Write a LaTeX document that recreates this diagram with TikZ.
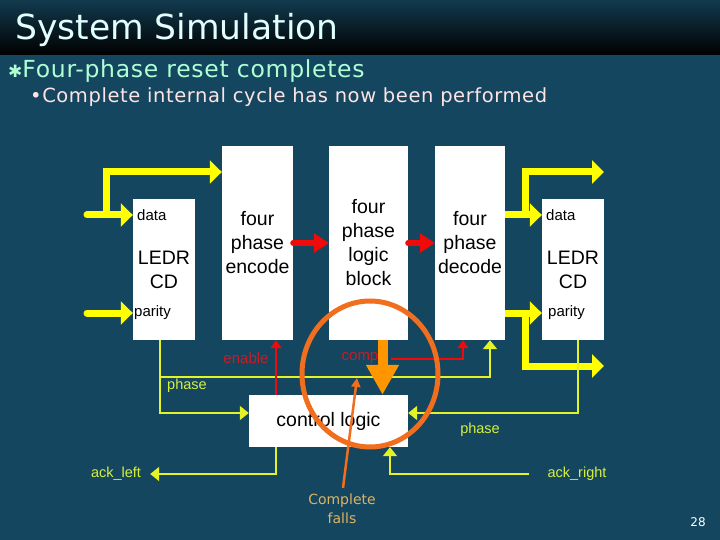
\documentclass[tikz,border=0pt]{standalone}
\usepackage{fontspec}
\setmainfont{Liberation Sans}
\newfontfamily\slidefont{DejaVu Sans}
\newfontfamily\widefont[LetterSpace=3]{DejaVu Sans}
\usetikzlibrary{arrows.meta,positioning,calc}
\definecolor{slidebg}{RGB}{20,70,96}
\definecolor{titletop}{RGB}{18,58,78}
\definecolor{titlecol}{RGB}{225,255,255}
\definecolor{bulletcol}{RGB}{175,255,210}
\definecolor{subcol}{RGB}{255,228,228}
\definecolor{sigyel}{RGB}{255,255,0}
\definecolor{thinyel}{RGB}{228,242,40}
\definecolor{labyel}{RGB}{215,240,60}
\definecolor{sigred}{RGB}{240,10,10}
\definecolor{labred}{RGB}{195,30,40}
\definecolor{ringor}{RGB}{240,110,30}
\definecolor{bigor}{RGB}{255,150,0}
\definecolor{notecol}{RGB}{220,180,100}

\begin{document}
\begin{tikzpicture}[x=1pt, y=-1pt, >=Latex]
\tikzstyle{blk}=[fill=white, inner sep=0pt, align=center, font=\fontsize{19.5}{24}\selectfont]
\tikzstyle{port}=[inner sep=0pt, anchor=west, font=\fontsize{15}{18}\selectfont]
\tikzstyle{bus}=[sigyel, line width=7pt, -{Triangle[width=23pt,length=12pt]}]
\tikzstyle{fwd}=[sigred, line width=6pt, line cap=round, -{Triangle[width=19pt,length=15pt]}]
\tikzstyle{wire}=[thinyel, line width=2pt, -{Triangle[width=14pt,length=9pt]}]
\tikzstyle{rwire}=[sigred, line width=1.6pt, -{Triangle[width=11pt,length=8pt]}]
\tikzstyle{lab}=[inner sep=0pt, labyel, font=\fontsize{14.5}{17}\selectfont]
\useasboundingbox (0,0) rectangle (720,540);
% slide background and heading
\fill[slidebg] (0,0) rectangle (720,540);
\shade[top color=titletop, bottom color=black] (0,0) rectangle (720,55);
\node[anchor=base west, inner sep=0pt, titlecol, font=\slidefont\fontsize{34.5}{40}\selectfont] (title) at (15,40) {System Simulation};
\node[anchor=base west, inner sep=0pt, bulletcol, font=\widefont\fontsize{23.5}{26}\selectfont] (pt1) at (8,78) {{\slidefont\fontsize{17}{20}\selectfont ✱}Four-phase reset completes};
\node[anchor=base west, inner sep=0pt, subcol, font=\widefont\fontsize{19.5}{22}\selectfont] (pt2) at (30,103) {•Complete internal cycle has now been performed};
\node[white, inner sep=0pt, font=\slidefont\fontsize{12}{15}\selectfont] (pg) at (698,522) {28};

% blocks
\node[blk, minimum width=62pt, minimum height=141pt] (ledrL) at (164,269.5) {LEDR\\CD};
\node[blk, minimum width=71pt, minimum height=194pt] (enc) at (257.5,243) {four\\phase\\encode};
\node[blk, minimum width=79pt, minimum height=194pt] (logic) at (368.5,243) {four\\phase\\logic\\block};
\node[blk, minimum width=70pt, minimum height=194pt] (dec) at (470,243) {four\\phase\\decode};
\node[blk, minimum width=62pt, minimum height=141pt] (ledrR) at (573,269.5) {LEDR\\CD};
\node[blk, minimum width=159pt, minimum height=52pt] (ctrl) at (328.5,421) {control logic};
\node[port] (dL) at (137,215) {data};
\node[port] (pL) at (134,313) {parity};
\node[port] (dR) at (546,215) {data};
\node[port] (pR) at (548,313) {parity};

% data path
\coordinate (inD) at (87,215);
\coordinate (inP) at (87,313);
\coordinate (splitL) at (106,215);
\coordinate (topL) at (106,172);
\draw[bus, line cap=round] (inD) -- (inD -| ledrL.west);
\draw[bus] (splitL) -- (topL) -- (topL -| enc.west);
\draw[bus, line cap=round] (inP) -- (inP -| ledrL.west);
\draw[bus] (dec.east |- dR) -- (ledrR.west |- dR);
\draw[bus] (dec.east |- pR) -- (ledrR.west |- pR);
\coordinate (splitR) at (525,215);
\coordinate (outD) at (604,172);
\draw[bus] (splitR) |- (outD);
\coordinate (splitRP) at (525,313);
\coordinate (outP) at (604,366);
\draw[bus] (splitRP) |- (outP);
\draw[fwd] (enc.east) -- (logic.west);
\draw[fwd] (logic.east) -- (dec.west);

% handshake wires
\coordinate (phL) at (160,377);
\draw[wire] (ledrL.south -| phL) |- ($(ctrl.west)+(0,-8)$);
\draw[wire] (phL) -| ($(dec.south)+(20,0)$);
\node[lab, anchor=west] (phLl) at (167,386) {phase};
\draw[wire] ($(ledrR.south)+(5,0)$) |- ($(ctrl.east)+(0,-8)$);
\node[lab] (phRl) at (480,430) {phase};
\node[lab] (ackL) at (116,474) {ack\_left};
\draw[wire] ($(ctrl.south)+(-52.5,0)$) |- ($(ackL.east)+(9,0)$);
\node[lab] (ackR) at (577,474) {ack\_right};
\draw[wire] ($(ackR.west)+(-18,0)$) -| ($(ctrl.south)+(61.5,0)$);
\node[inner sep=0pt, labred, font=\fontsize{15}{18}\selectfont] (enl) at (246,358) {enable};
\draw[rwire] ($(ctrl.north)+(-52.5,0)$) coordinate (en) -- (en |- enc.south);
\node[inner sep=0pt, labred, font=\fontsize{15}{18}\selectfont] (cmp) at (360,358) {comp};
\draw[rwire] ($(cmp.east)+(12,1)$) -| ($(dec.south)+(-7,0)$);

% highlight
\draw[bigor, line width=10pt, -{Triangle[width=31pt,length=30pt]}] ($(logic.south)+(14,0)$) -- ($(ctrl.north)+(54,0)$);
\draw[ringor, line width=5pt] (370,374) ellipse [x radius=68pt, y radius=73pt];
\node[inner sep=0pt, align=center, notecol, font=\slidefont\fontsize{14}{19}\selectfont] (note) at (342,509) {Complete\\falls};
\coordinate (hit) at (357,378);
\draw[ringor, line width=2.5pt, -{Triangle[width=9pt,length=9pt]}] ($(note.north)+(1,-6)$) -- (hit);
\end{tikzpicture}
\end{document}
